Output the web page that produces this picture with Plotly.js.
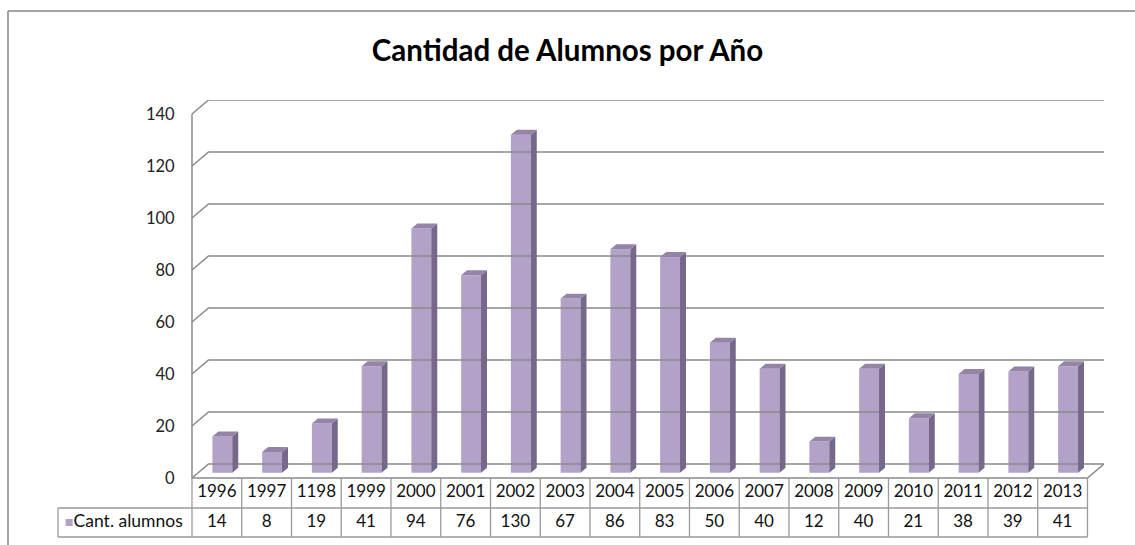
<!DOCTYPE html>
<html><head><meta charset="utf-8">
<script src="https://cdn.plot.ly/plotly-3.0.1.min.js"></script>
<style>html,body{margin:0;padding:0;background:#fff;overflow:hidden;width:1135px;height:545px}#chart{width:1135px;height:545px;overflow:hidden}</style>
</head><body><div id="chart"></div>
<script>
// ---- data ----
const years = ['1996','1997','1198','1999','2000','2001','2002','2003','2004','2005','2006','2007','2008','2009','2010','2011','2012','2013'];
const alumnos = [14, 8, 19, 41, 94, 76, 130, 67, 86, 83, 50, 40, 12, 40, 21, 38, 39, 41];
const seriesName = 'Cant. alumnos';
const yTicks = [0, 20, 40, 60, 80, 100, 120, 140];
const chartTitle = 'Cantidad de Alumnos por Año';

// ---- geometry (data units) ----
const DX = 0.332, DY = 5.38;          // wall depth offset
const BX = 0.11, BY = 2.0, BW = 0.4;  // bar front face offset & width
const SX = 0.12, SY = 1.9;            // bar depth
const ROW1 = -11.54, ROW2 = -22.69, LEG_L = -3.193;
const LEG_MARK = -2.97, LEG_TXT = -2.88;
const n = years.length;
const xs = years.map((_, i) => i);
const xL = -0.5, xR = n - 0.5;
const yMax = yTicks[yTicks.length - 1];

const F = 'Lato, "Open Sans", sans-serif';
const gridColor = '#8a8a8a';
const cFront = '#b3a2c7', cSide = '#76688a', cTop = '#9384a8';

// back wall gridlines + side wall slants
const gx = [], gy = [];
yTicks.forEach(t => { gx.push(xL, xL + DX, xR + DX, null); gy.push(t, t + DY, t + DY, null); });
// floor front edge and right slant, left front edge
gx.push(xL, xR, xR + DX, null, xL, xL, null);
gy.push(0, 0, DY, null, 0, yMax, null);

// bar sides and tops
const sx = [], sy = [], tx = [], ty = [];
xs.forEach((x, i) => {
  const v = alumnos[i];
  const a = x + BX - BW / 2, b = x + BX + BW / 2;
  sx.push(b, b + SX, b + SX, b, b, null);
  sy.push(BY, BY + SY, BY + v + SY, BY + v, BY, null);
  tx.push(a, a + SX, b + SX, b, a, null);
  ty.push(BY + v, BY + v + SY, BY + v + SY, BY + v, BY + v, null);
});

// table lines
const lx = [], ly = [];
for (let i = 0; i <= n; i++) { lx.push(i - 0.5, i - 0.5, null); ly.push(0, ROW2, null); }
lx.push(LEG_L, xR, null, LEG_L, xR, null, LEG_L, LEG_L, null);
ly.push(ROW1, ROW1, null, ROW2, ROW2, null, ROW1, ROW2, null);

const traces = [
  {x: gx, y: gy, mode: 'lines', line: {color: gridColor, width: 1.5}, hoverinfo: 'skip'},
  {x: sx, y: sy, mode: 'lines', fill: 'toself', fillcolor: cSide, line: {width: 0}, hoverinfo: 'skip'},
  {x: tx, y: ty, mode: 'lines', fill: 'toself', fillcolor: cTop, line: {width: 0}, hoverinfo: 'skip'},
  {type: 'bar', name: seriesName, x: xs.map(x => x + BX), y: alumnos, base: BY, width: BW,
   marker: {color: cFront, line: {width: 0}}},
  {x: lx, y: ly, mode: 'lines', line: {color: '#9a9a9a', width: 1.3}, hoverinfo: 'skip'},
  {x: xs, y: xs.map(() => ROW1 / 2), mode: 'text', text: years, textposition: 'middle center',
   textfont: {family: F, size: 17, color: '#111'}, cliponaxis: false, hoverinfo: 'skip'},
  {x: xs, y: xs.map(() => (ROW1 + ROW2) / 2), mode: 'text', text: alumnos.map(String), textposition: 'middle center',
   textfont: {family: F, size: 17, color: '#111'}, cliponaxis: false, hoverinfo: 'skip'},
  {x: [LEG_MARK], y: [(ROW1 + ROW2) / 2], mode: 'markers', marker: {symbol: 'square', size: 7, color: cFront}, hoverinfo: 'skip'},
  {x: [LEG_TXT], y: [(ROW1 + ROW2) / 2], mode: 'text', text: [seriesName], textposition: 'middle right',
   textfont: {family: F, size: 17.5, color: '#111'}, cliponaxis: false, hoverinfo: 'skip'}
];

const layout = {
  width: 1135, height: 545,
  margin: {l: 50, r: 31, t: 100, b: 5},
  paper_bgcolor: '#fff', plot_bgcolor: 'rgba(0,0,0,0)',
  showlegend: false,
  title: {text: chartTitle, x: 0.5, xref: 'container', y: 1 - 51 / 545, yref: 'container', yanchor: 'middle',
          font: {family: F, size: 29.5, color: '#000', weight: 'bold'}},
  xaxis: {range: [-3.354, xR + DX], visible: false, fixedrange: true},
  yaxis: {range: [-23.85, 145.38], tickvals: yTicks, ticktext: yTicks.map(String),
          anchor: 'free', position: 142 / 1054, showgrid: false, zeroline: false, showline: false,
          ticks: 'outside', ticklen: 14, tickcolor: 'rgba(0,0,0,0)',
          tickfont: {family: F, size: 16.5, color: '#222'}, fixedrange: true},
  shapes: [
    {type: 'line', xref: 'paper', yref: 'paper', x0: -42 / 1054, x1: -42 / 1054, y0: -0.5, y1: 529 / 440,
     line: {color: '#868686', width: 1.5}},
    {type: 'line', xref: 'paper', yref: 'paper', x0: -42 / 1054, x1: 1.5, y0: 529 / 440, y1: 529 / 440,
     line: {color: '#868686', width: 1.5}}
  ]
};

Plotly.newPlot('chart', traces, layout, {displayModeBar: false, staticPlot: true});
</script></body></html>
